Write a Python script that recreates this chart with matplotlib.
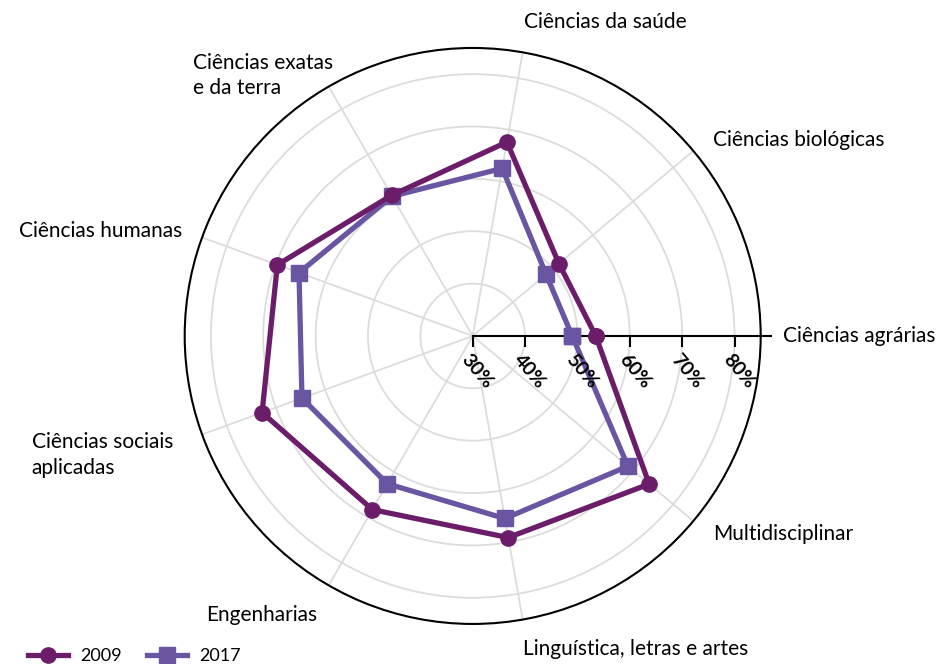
import numpy as np
import matplotlib
matplotlib.use("Agg")
import matplotlib.pyplot as plt

plt.rcParams['font.family'] = ['Lato', 'DejaVu Sans']

areas = ['Ciências agrárias', 'Ciências biológicas', 'Ciências da saúde',
         'Ciências exatas\ne da terra', 'Ciências humanas',
         'Ciências sociais\naplicadas', 'Engenharias',
         'Linguística, letras e artes', 'Multidisciplinar']
v2009 = [53.5, 51.5, 67.6, 61.0, 69.7, 72.8, 68.3, 69.1, 74.0]
v2017 = [49.0, 48.3, 62.5, 60.8, 65.3, 64.7, 62.6, 65.4, 68.7]
r_ticks = [30, 40, 50, 60, 70, 80]

c2009 = '#6c1d6a'
c2017 = '#6a55a3'

n = len(areas)
theta = np.deg2rad(np.arange(n) * 360.0 / n)

fig = plt.figure(figsize=(9.39, 6.64), dpi=100)
ax = fig.add_axes([0.1967, 0.0603, 0.6134, 0.8675], projection='polar')
ax.set_ylim(30, 85)

# closed polygons
th = np.append(theta, theta[0])
ax.plot(th, v2009 + v2009[:1], color=c2009, lw=3.8, marker='o', ms=11,
        label='2009', zorder=5, clip_on=False)
ax.plot(th, v2017 + v2017[:1], color=c2017, lw=3.8, marker='s', ms=11,
        label='2017', zorder=4, clip_on=False)

# grid
ax.set_xticks(theta)
ax.set_xticklabels([])
ax.set_yticks(r_ticks[1:])
ax.set_yticklabels([])
ax.grid(True, color='#dcdcdc', lw=1.3)
ax.tick_params(axis='x', length=8, width=1.2, color='black', direction='out')
ax.tick_params(axis='y', length=0)
ax.spines['polar'].set_color('black')
ax.spines['polar'].set_linewidth(1.5)

# radial axis drawn by hand
ax.plot([0, 0], [30, 87], color='black', lw=1.5, zorder=3, clip_on=False)
ax.plot([0] * len(r_ticks), r_ticks, ls='none', marker=3, ms=8, mew=1.5,
        color='black', zorder=3)
for v in r_ticks:
    ax.annotate(f'{v}%', xy=(0, v), xytext=(-1, -11), textcoords='offset points',
                rotation=-50, rotation_mode='anchor', ha='left', va='top',
                fontsize=14, fontweight='bold', zorder=6)

# category labels (offsets in points from the end of each spoke)
label_pos = [((16, 0), 'left', 'center'),
             ((14, 8), 'left', 'center'),
             ((1, 22), 'left', 'center'),
             ((3, 8), 'right', 'center'),
             ((-14, 5), 'right', 'center'),
             ((-21, -15), 'right', 'center'),
             ((-8, -21), 'right', 'center'),
             ((0, -21), 'left', 'center'),
             ((14, -9), 'left', 'center')]
for t, name, (off, ha, va) in zip(theta, areas, label_pos):
    ax.annotate(name, xy=(t, 85), xytext=off, textcoords='offset points',
                ha=ha, va=va, multialignment='left', fontsize=15,
                linespacing=1.35, annotation_clip=False)

fig.legend(loc='center left', bbox_to_anchor=(28 / 939, 8 / 664), ncol=2,
           frameon=False, fontsize=13, handlelength=2.2, handletextpad=0.7,
           columnspacing=1.4, borderpad=0, borderaxespad=0)

fig.savefig('out.png', dpi=100)
